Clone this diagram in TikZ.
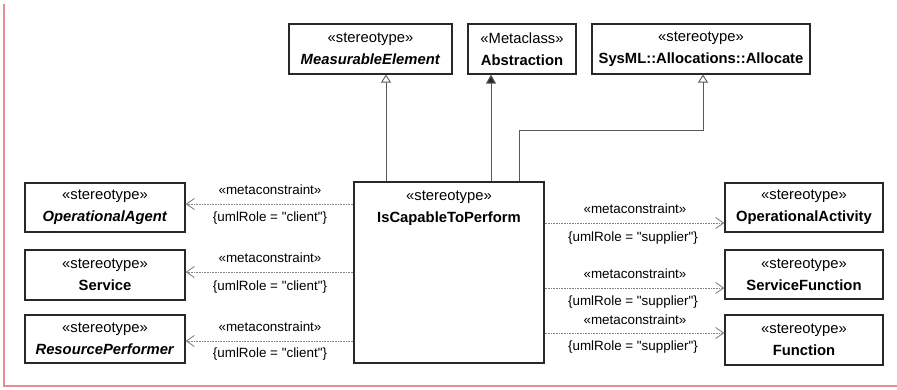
\documentclass[tikz,border=0pt]{standalone}
\usepackage{fontspec}
\setmainfont{Liberation Sans}[Ligatures=TeXOff]
\usetikzlibrary{arrows.meta}
\definecolor{framepink}{RGB}{232,140,150}
\definecolor{boxline}{RGB}{40,40,40}
\definecolor{conline}{RGB}{90,90,90}
\definecolor{dotline}{RGB}{130,130,130}
\tikzset{
  cls/.style={draw=boxline, line width=1.2pt, rectangle, inner sep=0pt, align=center,
    font=\fontsize{14.8}{22}\selectfont},
  lbl/.style={inner sep=0pt, font=\fontsize{13.4}{16}\selectfont},
  gen/.style={draw=conline, line width=1pt, -{Triangle[open, length=8pt, width=10pt, line width=0.9pt]}},
  genfill/.style={draw=conline, line width=1pt, -{Triangle[length=9pt, width=10pt, fill=boxline]}},
  mc/.style={draw=dotline, line width=0.9pt, dash pattern=on 1pt off 0.6pt,
    -{Straight Barb[length=8pt, width=11pt, line width=0.9pt]}}
}
\begin{document}
\begin{tikzpicture}[x=1pt, y=-1pt]
\useasboundingbox (0,0) rectangle (897,390);
% frame
\draw[framepink, line width=1.2pt] (4,4) -- (4,386) -- (897,386);
% top classes
\node[cls, minimum width=163pt, minimum height=50pt] (me) at (370.5,49) {«stereotype»\\\textbf{\textit{MeasurableElement}}};
\node[cls, minimum width=108pt, minimum height=50pt] (abs) at (522,49) {«Metaclass»\\\textbf{Abstraction}};
\node[cls, minimum width=218pt, minimum height=50pt] (alloc) at (701,49) {«stereotype»\\\textbf{SysML::Allocations::Allocate}};
% central class
\node[cls, minimum width=190pt, minimum height=181pt] (icp) at (449,272.5) {};
\node[cls, draw=none, anchor=north] (icpt) at (449,190) {«stereotype»\\\textbf{IsCapableToPerform}};
% left classes
\node[cls, minimum width=160pt, minimum height=49pt] (oag) at (105,207.5) {«stereotype»\\\textbf{\textit{OperationalAgent}}};
\node[cls, minimum width=160pt, minimum height=50pt] (srv) at (105,275) {«stereotype»\\\textbf{Service}};
\node[cls, minimum width=160pt, minimum height=48pt] (rp) at (105,339) {«stereotype»\\\textbf{\textit{ResourcePerformer}}};
% right classes
\node[cls, minimum width=158pt, minimum height=49pt] (oac) at (804,207.5) {«stereotype»\\\textbf{OperationalActivity}};
\node[cls, minimum width=158pt, minimum height=49pt] (sf) at (804,274.5) {«stereotype»\\\textbf{ServiceFunction}};
\node[cls, minimum width=158pt, minimum height=50pt] (fn) at (804,340) {«stereotype»\\\textbf{Function}};
% generalizations
\draw[gen] (icp.north -| 386,0) -- (me.south -| 386,0);
\draw[genfill] (icp.north -| 491,0) -- (abs.south -| 491,0);
\coordinate (b1) at (519,131);
\coordinate (b2) at (703,131);
\draw[gen] (icp.north -| b1) -- (b1) -- (b2) -- (alloc.south -| b2);
% metaconstraints left
\draw[mc] (icp.west |- 0,204) -- (oag.east |- 0,204);
\draw[mc] (icp.west |- 0,272) -- (srv.east |- 0,272);
\draw[mc] (icp.west |- 0,341) -- (rp.east |- 0,341);
\node[lbl] (l1a) at (270,190) {«metaconstraint»};
\node[lbl] (l1b) at (270,218) {\{umlRole = "client"\}};
\node[lbl] (l2a) at (270,258) {«metaconstraint»};
\node[lbl] (l2b) at (270,287) {\{umlRole = "client"\}};
\node[lbl] (l3a) at (270,327) {«metaconstraint»};
\node[lbl] (l3b) at (270,354) {\{umlRole = "client"\}};
% metaconstraints right
\draw[mc] (icp.east |- 0,223) -- (oac.west |- 0,223);
\draw[mc] (icp.east |- 0,288) -- (sf.west |- 0,288);
\draw[mc] (icp.east |- 0,333) -- (fn.west |- 0,333);
\node[lbl] (r1a) at (635,209) {«metaconstraint»};
\node[lbl] (r1b) at (633,238) {\{umlRole = "supplier"\}};
\node[lbl] (r2a) at (635,274) {«metaconstraint»};
\node[lbl] (r2b) at (633,302) {\{umlRole = "supplier"\}};
\node[lbl] (r3a) at (635,320) {«metaconstraint»};
\node[lbl] (r3b) at (633,347) {\{umlRole = "supplier"\}};
\end{tikzpicture}
\end{document}
